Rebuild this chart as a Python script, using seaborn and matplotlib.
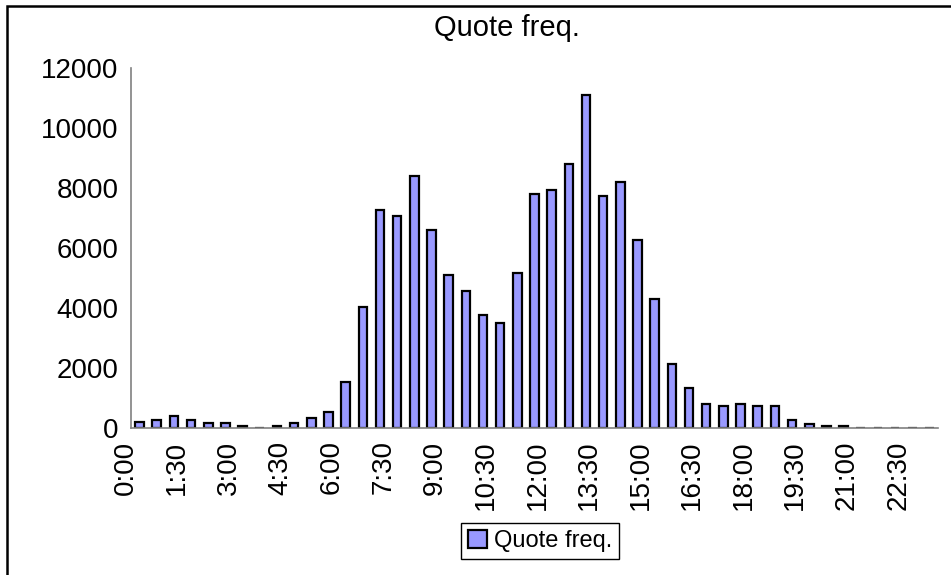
import matplotlib
matplotlib.use("Agg")
import matplotlib.pyplot as plt
import matplotlib.transforms as mtransforms
from matplotlib.patches import Rectangle
import pandas as pd
import seaborn as sns

# half-hour bins, 0:00 .. 23:00
slots = [f"{(i * 30) // 60}:{(i * 30) % 60:02d}" for i in range(47)]
quotes = [200, 280, 400, 280, 150, 150, 80, 0, 80, 150,
          330, 540, 1520, 4030, 7260, 7060, 8380, 6600, 5080, 4570,
          3760, 3500, 5160, 7790, 7930, 8780, 11100, 7720, 8180, 6270,
          4300, 2135, 1330, 800, 740, 800, 740, 740, 280, 130,
          60, 60, 0, 0, 0, 0, 0]
tick_every = 3

df = pd.DataFrame({"slot": slots, "quotes": quotes})

sns.set_style("white")
plt.rcParams["font.family"] = ["Liberation Sans", "DejaVu Sans"]
plt.rcParams["text.color"] = "black"
plt.rcParams["xtick.labelcolor"] = "black"
plt.rcParams["ytick.labelcolor"] = "black"

fig = plt.figure(figsize=(9.51, 5.75), dpi=100)
ax = fig.add_axes([131 / 951, 1 - 428 / 575, (938 - 131) / 951, (428 - 67.7) / 575])

sns.barplot(data=df, x="slot", y="quotes", order=slots, color="#9999ff",
            edgecolor="black", linewidth=1.6, width=0.5, saturation=1,
            label="Quote freq.", ax=ax)

ax.set_xlim(-0.5, len(slots) - 0.5)
ax.set_ylim(0, 12000)
ax.set_yticks(range(0, 12001, 2000))
ax.set_xlabel("")
ax.set_ylabel("")

# category boundary ticks + sparse labels
ax.set_xticks(range(0, len(slots), tick_every))
ax.set_xticklabels(slots[::tick_every], rotation=90, ha="center", va="top")
ax.set_xticks([i - 0.5 for i in range(len(slots) + 1)], minor=True)
ax.tick_params(axis="x", which="major", length=0, pad=9, labelsize=20)
ax.tick_params(axis="x", which="minor", length=5, width=1, color="#808080", direction="out")
ax.tick_params(axis="y", length=6, width=1, color="#808080", direction="out", pad=3, labelsize=20)
shift = mtransforms.ScaledTranslation(-14 / 100, 0, fig.dpi_scale_trans)
for lab in ax.get_xticklabels():
    lab.set_transform(lab.get_transform() + shift)

for s in ["top", "right"]:
    ax.spines[s].set_visible(False)
for s in ["left", "bottom"]:
    ax.spines[s].set_color("#808080")
    ax.spines[s].set_linewidth(1.2)

fig.text(507 / 951, 1 - 28 / 575, "Quote freq.", ha="center", va="center", fontsize=21)

ax.legend(loc="upper center", bbox_to_anchor=(540 / 951, 1 - 523 / 575),
          bbox_transform=fig.transFigure, fontsize=17, frameon=True, fancybox=False,
          framealpha=1, edgecolor="black", handlelength=0.8, handleheight=0.8,
          handletextpad=0.3, borderpad=0.3, borderaxespad=0)

fig.patches.append(Rectangle((7 / 951, -0.1), 1.2, 1 - 6 / 575 + 0.1, transform=fig.transFigure,
                             fill=False, edgecolor="black", linewidth=1.8))

fig.savefig("out.png", dpi=100, facecolor="white")
